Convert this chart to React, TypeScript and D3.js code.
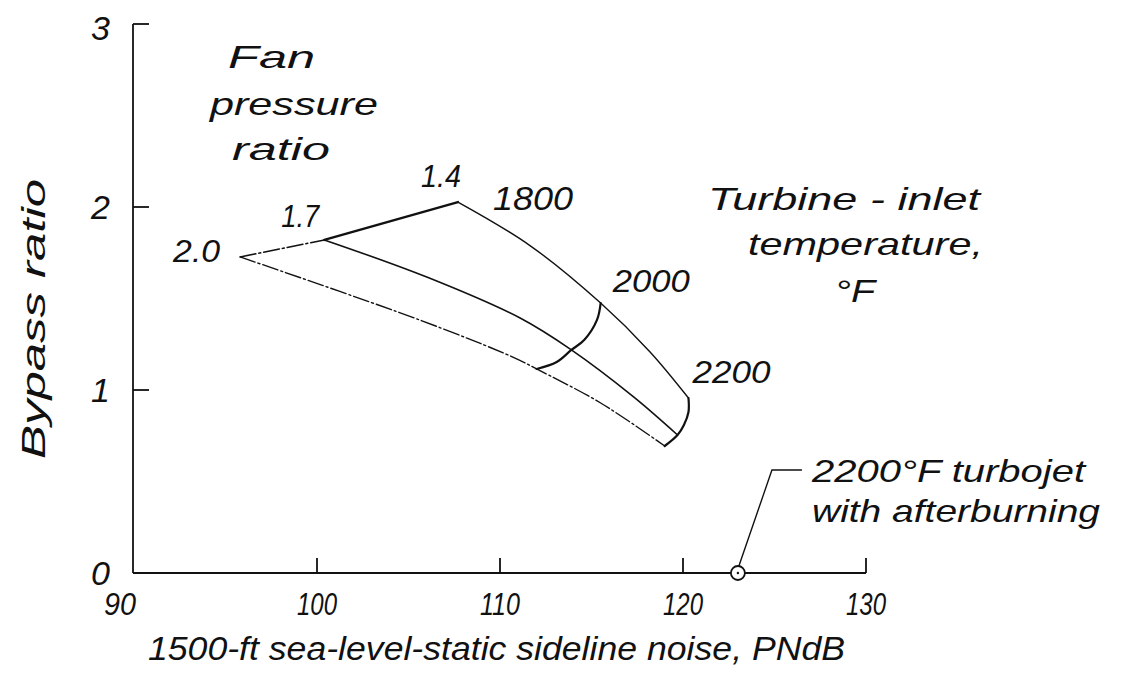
import React from 'react';
import * as d3 from 'd3';

const W = 1134;
const H = 677;

// axes
const noiseTicks = [90, 100, 110, 120, 130];
const bypassTicks = [0, 1, 2, 3];

// constant fan-pressure-ratio lines (sideline noise PNdB, bypass ratio)
const fpr20Noise = [95.8, 105.6, 110.7, 112.0, 115.5, 119.0];
const fpr20Bypass = [1.727, 1.383, 1.18, 1.115, 0.929, 0.694];
const fpr17Noise = [100.4, 106.0, 111.1, 113.9, 117.3, 119.7];
const fpr17Bypass = [1.82, 1.617, 1.393, 1.219, 0.962, 0.754];
const fpr14Noise = [107.7, 111.6, 115.5, 118.2, 120.3];
const fpr14Bypass = [2.027, 1.792, 1.475, 1.208, 0.956];

// constant turbine-inlet-temperature lines
const t1800Noise = [95.8, 100.4, 107.7];
const t1800Bypass = [1.727, 1.82, 2.027];
const t2000Noise = [115.5, 115.3, 114.6, 113.9, 113.1, 112.0];
const t2000Bypass = [1.475, 1.383, 1.273, 1.219, 1.153, 1.115];
const t2200Noise = [120.3, 120.3, 120.05, 119.7, 119.0];
const t2200Bypass = [0.956, 0.88, 0.809, 0.754, 0.694];

// 2200°F turbojet with afterburning
const turbojetNoise = 123.0;
const turbojetBypass = 0;

const x = d3.scaleLinear().domain([90, 130]).range([134, 866]);
const y = d3.scaleLinear().domain([0, 3]).range([573, 24]);

const zip = (xs: number[], ys: number[]) => xs.map((v, i) => [v, ys[i]] as [number, number]);

const smooth = d3.line<[number, number]>()
  .x(d => x(d[0]))
  .y(d => y(d[1]))
  .curve(d3.curveCatmullRom.alpha(0.5));

const straight = d3.line<[number, number]>()
  .x(d => x(d[0]))
  .y(d => y(d[1]));

const ink = '#111';
const font = '"Liberation Sans", Arial, sans-serif';

function Label({ tx, ty, len, size = 32, anchor = 'start', children }: any) {
  return (
    <text x={tx} y={ty} fontSize={size} fontStyle="italic" fill={ink} textAnchor={anchor}
      textLength={len} lengthAdjust="spacingAndGlyphs">{children}</text>
  );
}

export default function App() {
  const fpr20 = zip(fpr20Noise, fpr20Bypass);
  const fpr17 = zip(fpr17Noise, fpr17Bypass);
  const fpr14 = zip(fpr14Noise, fpr14Bypass);
  const t1800 = zip(t1800Noise, t1800Bypass);
  const t2000 = zip(t2000Noise, t2000Bypass);
  const t2200 = zip(t2200Noise, t2200Bypass);

  const n20 = fpr20[0], n17 = fpr17[0], n14 = fpr14[0];
  const n2000 = t2000[0], n2200 = t2200[0];

  const cx = x(turbojetNoise), cy = y(turbojetBypass);
  const r = 7;
  const leader = [
    [cx + 1, cy - r],
    [x(124.86), y(0.563)],
    [x(126.5), y(0.563)],
  ];

  return (
    <div style={{ position: 'fixed', left: 0, top: 0 }}>
      <svg width={W} height={H} style={{ display: 'block', background: '#fff', fontFamily: font }}>
        {/* axes */}
        <g stroke={ink} strokeWidth={1.8} fill="none">
          <line x1={x(90) - 1} x2={x(90) - 1} y1={y(3)} y2={y(0)} />
          <line x1={x(90) - 1} x2={x(130)} y1={y(0)} y2={y(0)} />
          {bypassTicks.filter(t => t > 0).map(t => (
            <line key={t} x1={x(90) - 1} x2={x(90) + 15} y1={y(t)} y2={y(t)} />
          ))}
          {noiseTicks.filter(t => t > 90).map(t => (
            <line key={t} x1={x(t)} x2={x(t)} y1={y(0)} y2={y(0) - 15} />
          ))}
        </g>
        {bypassTicks.map(t => (
          <Label key={t} tx={x(90) - 24} ty={y(t) + (t === 3 ? 16 : 12)} size={34} anchor="end">{t}</Label>
        ))}
        {noiseTicks.map((t, i) => (
          <Label key={t} tx={x(t) - (i === 0 ? 14 : 0)} ty={615} size={31} anchor="middle"
            len={t < 100 ? 32 : 40}>{t}</Label>
        ))}
        <Label tx={148} ty={660} len={697} size={33}>1500-ft sea-level-static sideline noise, PNdB</Label>
        <g transform="translate(45,319) rotate(-90)">
          <Label tx={0} ty={0} len={280} size={34} anchor="middle">Bypass ratio</Label>
        </g>

        {/* carpet */}
        <g fill="none" stroke={ink} strokeLinecap="round" strokeLinejoin="round">
          <path d={smooth(fpr20) || ''} strokeWidth={1.4} strokeDasharray="16 3 2 3" />
          <path d={smooth(fpr17) || ''} strokeWidth={1.6} />
          <path d={smooth(fpr14) || ''} strokeWidth={1.4} />
          <path d={straight(t1800.slice(0, 2)) || ''} strokeWidth={1.6} strokeDasharray="16 3 2 3" />
          <path d={straight(t1800.slice(1)) || ''} strokeWidth={2.4} />
          <path d={smooth(t2000) || ''} strokeWidth={2.2} />
          <path d={smooth(t2200) || ''} strokeWidth={2.2} />
        </g>

        {/* fan pressure ratio labels */}
        <Label tx={x(n20[0]) - 20} ty={y(n20[1]) + 5} len={47} size={32} anchor="end">2.0</Label>
        <Label tx={x(n17[0]) - 43} ty={y(n17[1]) - 13} len={38} size={32}>1.7</Label>
        <Label tx={x(n14[0]) - 37} ty={y(n14[1]) - 15} len={40} size={32}>1.4</Label>
        {/* temperature labels */}
        <Label tx={x(n14[0]) + 35} ty={y(n14[1]) + 8} len={80} size={34}>1800</Label>
        <Label tx={x(n2000[0]) + 12} ty={y(n2000[1]) - 11} len={77} size={32}>2000</Label>
        <Label tx={x(n2200[0]) + 4} ty={y(n2200[1]) - 15} len={78} size={32}>2200</Label>

        {/* legends */}
        <Label tx={x(95.14)} ty={y(2.76)} len={87} size={32}>Fan</Label>
        <Label tx={x(94.15)} ty={y(2.503)} len={168} size={32}>pressure</Label>
        <Label tx={x(95.36)} ty={y(2.257)} len={98} size={32}>ratio</Label>
        <Label tx={x(121.37)} ty={y(1.984)} len={272} size={32}>Turbine - inlet</Label>
        <Label tx={x(123.55)} ty={y(1.738)} len={235} size={32}>temperature,</Label>
        <Label tx={x(128.31)} ty={y(1.481)} len={40} size={32}>°F</Label>

        {/* turbojet point */}
        <circle cx={cx} cy={cy} r={r} fill="#fff" stroke={ink} strokeWidth={1.8} />
        <circle cx={cx} cy={cy} r={1.2} fill={ink} />
        <path d={d3.line()(leader as [number, number][]) || ''} fill="none" stroke={ink} strokeWidth={1.4} />
        <Label tx={x(127.05)} ty={y(0.497)} len={273} size={32}>2200°F turbojet</Label>
        <Label tx={x(127.05)} ty={y(0.279)} len={288} size={32}>with afterburning</Label>
      </svg>
    </div>
  );
}
